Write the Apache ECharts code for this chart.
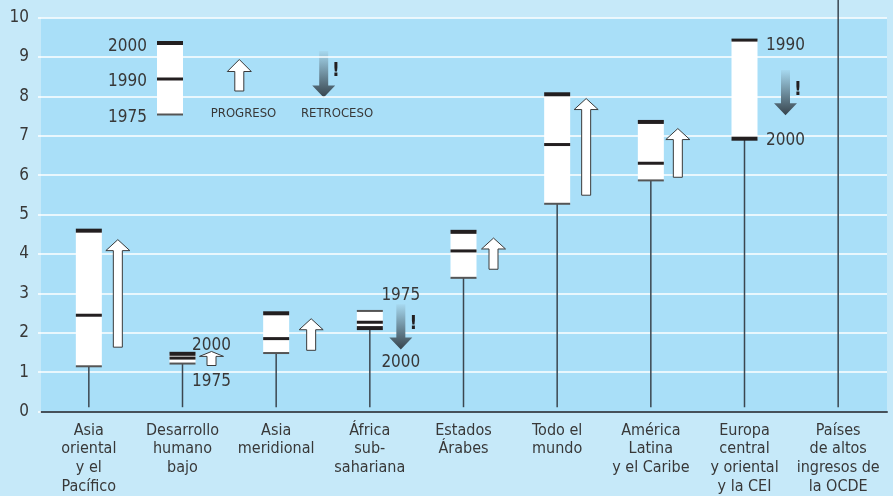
<!DOCTYPE html>
<html><head><meta charset="utf-8">
<script src="https://cdn.jsdelivr.net/npm/echarts@6/dist/echarts.min.js"></script>
<style>html,body{margin:0;padding:0;background:#c6e9f9}#c{width:893px;height:496px}</style>
</head><body><div id="c"></div>
<script>
// ---- data ----
const categories = ['Asia\noriental\ny el\nPacífico', 'Desarrollo\nhumano\nbajo', 'Asia\nmeridional', 'África\nsub-\nsahariana', 'Estados\nÁrabes', 'Todo el\nmundo', 'América\nLatina\ny el Caribe', 'Europa\ncentral\ny oriental\ny la CEI', 'Países\nde altos\ningresos de\nla OCDE'];
const v1975 = [1.05, 1.12, 1.39, 2.47, 3.32, 5.22, 5.82, null, 16.5];
const v1990 = [2.36, 1.26, 1.76, 2.18, 4.01, 6.74, 6.26, 9.42, 22.5];
const v2000 = [4.53, 1.37, 2.41, 2.03, 4.50, 8.03, 7.32, 6.89, 27.8];
const arrowFrom = [1.54, 1.07, 1.46, 2.64, 3.54, 5.44, 5.90, 8.65, null];
const arrowTo   = [4.30, 1.43, 2.27, 1.48, 4.34, 7.92, 7.15, 7.49, null];
const noteCategory = [1, 1, 3, 3, 7, 7];
const noteValue    = [1.59, 0.67, 2.86, 1.14, 9.27, 6.83];
const noteText     = ['2000', '1975', '1975', '2000', '1990', '2000'];
const yMin = 0, yMax = 10, yStep = 1;

// ---- layout / style ----
const FONT = '"DejaVu Sans Condensed", "Liberation Sans Narrow", "Liberation Sans", sans-serif';
const TXT = '#383838';
const ARROW_DX = [29, 29, 35, 31, 30, 29, 27, 41, 29];
const BOX_W = 26;
const LINE_STYLE = [
  {w: 2, c: '#555555'},   // 1975
  {w: 3, c: '#231f20'},   // 1990
  {w: 4, c: '#231f20'}    // 2000
];
function downGrad(){
  return new echarts.graphic.LinearGradient(0, 0, 0, 1, [
    {offset: 0, color: '#a6d8ef'}, {offset: 1, color: '#36434c'}]);
}
function upArrow(ax, yF, yT, hh, hw){
  const sw = 4.5;
  return {type: 'polygon', shape: {points: [
    [ax - sw, yF], [ax + sw, yF], [ax + sw, yT + hh], [ax + hw, yT + hh],
    [ax, yT], [ax - hw, yT + hh], [ax - sw, yT + hh]]},
    style: {fill: '#ffffff', stroke: '#3a3a3a', lineWidth: 1}};
}
function downArrow(ax, yF, yT){
  const sw = 4.5, hw = 11.5, hh = 12;
  return {type: 'polygon', shape: {points: [
    [ax - sw, yF], [ax + sw, yF], [ax + sw, yT - hh], [ax + hw, yT - hh],
    [ax, yT], [ax - hw, yT - hh], [ax - sw, yT - hh]]},
    style: {fill: downGrad()}};
}
function bang(x, y){
  return {type: 'text', style: {text: '!', x: x, y: y, align: 'center', verticalAlign: 'middle',
    font: 'bold 19px ' + FONT, fill: '#231f20'}};
}

const boxData = categories.map((c, i) => [i, v1975[i], v1990[i], v2000[i], arrowFrom[i], arrowTo[i]]);
const noteData = noteCategory.map((c, k) => [c, noteValue[k], noteText[k]]);

function renderBox(params, api){
  const i = api.value(0);
  const vals = [api.value(1), api.value(2), api.value(3)];
  const ok = vals.filter(v => !isNaN(v));
  const lo = Math.min.apply(null, ok), hi = Math.max.apply(null, ok);
  const base = api.coord([i, 0]);
  const cx = base[0];
  const yLo = api.coord([i, lo])[1], yHi = api.coord([i, hi])[1];
  const ch = [];
  ch.push({type: 'line', shape: {x1: cx, y1: base[1], x2: cx, y2: yLo},
    style: {stroke: '#3b4650', lineWidth: 1.5}});
  ch.push({type: 'rect', shape: {x: cx - BOX_W / 2, y: yHi, width: BOX_W, height: yLo - yHi},
    style: {fill: '#ffffff'}});
  vals.forEach((v, k) => {
    if (isNaN(v)) return;
    const y = api.coord([i, v])[1];
    ch.push({type: 'line', shape: {x1: cx - BOX_W / 2, y1: y, x2: cx + BOX_W / 2, y2: y},
      style: {stroke: LINE_STYLE[k].c, lineWidth: LINE_STYLE[k].w}});
  });
  const f = api.value(4), t = api.value(5);
  if (!isNaN(f) && !isNaN(t)) {
    const ax = cx + ARROW_DX[i];
    const yF = api.coord([i, f])[1], yT = api.coord([i, t])[1];
    if (yT < yF) {
      const hh = Math.min(11, (yF - yT) * 0.35);
      ch.push(upArrow(ax, yF, yT, hh, 12));
    } else {
      ch.push(downArrow(ax, yF, yT));
      ch.push(bang(ax + 12.5, (yF + yT) / 2 - 3));
    }
  }
  return {type: 'group', children: ch};
}
function renderNote(params, api){
  const i = api.value(0);
  const p = api.coord([i, api.value(1)]);
  return {type: 'text', style: {text: noteText[params.dataIndex], x: p[0] + ARROW_DX[i], y: p[1],
    align: 'center', verticalAlign: 'middle', font: '17px ' + FONT, fill: TXT}};
}

const chart = echarts.init(document.getElementById('c'), null, {renderer: 'canvas'});
const legendGraphics = [
  {type: 'rect', shape: {x: 157, y: 41, width: 26, height: 74}, style: {fill: '#fff'}},
  {type: 'line', shape: {x1: 157, y1: 43, x2: 183, y2: 43}, style: {stroke: '#231f20', lineWidth: 4}},
  {type: 'line', shape: {x1: 157, y1: 79, x2: 183, y2: 79}, style: {stroke: '#231f20', lineWidth: 3}},
  {type: 'line', shape: {x1: 157, y1: 114.5, x2: 183, y2: 114.5}, style: {stroke: '#555', lineWidth: 2}},
  {type: 'text', style: {text: '2000', x: 147, y: 47, align: 'right', verticalAlign: 'middle', font: '17px ' + FONT, fill: TXT}},
  {type: 'text', style: {text: '1990', x: 147, y: 81.5, align: 'right', verticalAlign: 'middle', font: '17px ' + FONT, fill: TXT}},
  {type: 'text', style: {text: '1975', x: 147, y: 118, align: 'right', verticalAlign: 'middle', font: '17px ' + FONT, fill: TXT}},
  upArrow(239.3, 91, 59.5, 12, 12),
  downArrow(323.7, 51, 97.5),
  bang(336, 71),
  {type: 'text', style: {text: 'PROGRESO', x: 243.5, y: 114, align: 'center', verticalAlign: 'middle', font: '13px ' + FONT, fill: TXT}},
  {type: 'text', style: {text: 'RETROCESO', x: 337, y: 114, align: 'center', verticalAlign: 'middle', font: '13px ' + FONT, fill: TXT}}
];

chart.setOption({
  animation: false,
  backgroundColor: '#c6e9f9',
  textStyle: {fontFamily: FONT},
  grid: [
    {left: 41, right: 6, top: 17.5, bottom: 84.5, show: true, backgroundColor: '#a9dff8', borderWidth: 0},
    {left: 42, right: 8, top: 17.5, bottom: 84.5}
  ],
  xAxis: [
    {type: 'value', gridIndex: 0, min: 0, max: 1, axisLine: {show: true, onZero: false, lineStyle: {color: '#46515a', width: 2}},
      axisLabel: {show: false}, axisTick: {show: false}, splitLine: {show: false}},
    {type: 'category', gridIndex: 1, data: categories, axisLine: {show: false}, axisTick: {show: false},
      axisLabel: {interval: 0, fontSize: 16, lineHeight: 18.7, color: TXT, margin: 14, fontFamily: FONT}}
  ],
  yAxis: [
    {type: 'value', gridIndex: 0, min: yMin, max: yMax, interval: yStep,
      axisLine: {show: false}, axisTick: {show: true, length: 3, lineStyle: {color: '#ffffff', width: 1.5}},
      axisLabel: {fontSize: 17, color: TXT, margin: 12, fontFamily: FONT},
      splitLine: {lineStyle: {color: '#ffffff', width: 1.5}}},
    {type: 'value', gridIndex: 1, min: yMin, max: yMax, interval: yStep, show: false}
  ],
  graphic: legendGraphics,
  series: [
    {type: 'custom', xAxisIndex: 1, yAxisIndex: 1, clip: false, renderItem: renderBox, data: boxData, z: 5},
    {type: 'custom', xAxisIndex: 1, yAxisIndex: 1, clip: false, renderItem: renderNote, data: noteData, z: 6}
  ]
});
</script></body></html>
